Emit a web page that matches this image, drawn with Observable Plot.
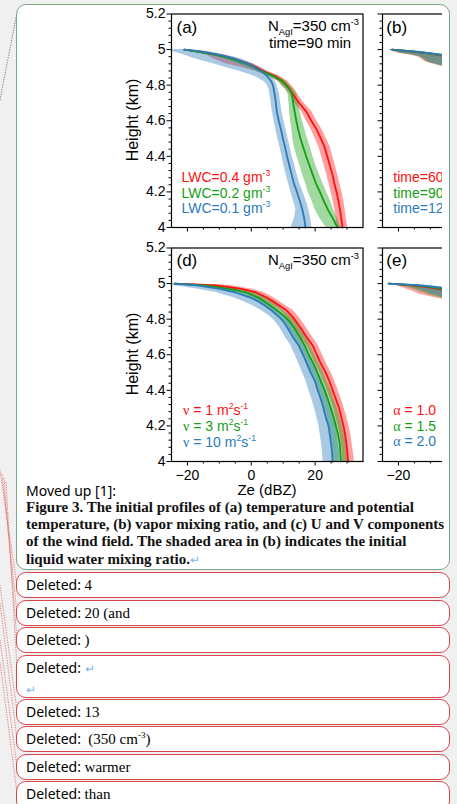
<!DOCTYPE html>
<html><head><meta charset="utf-8">
<script src="https://cdn.jsdelivr.net/npm/d3@7"></script>
<script src="https://cdn.jsdelivr.net/npm/@observablehq/plot@0.6"></script>
<style>
html,body{margin:0;padding:0}
body{width:457px;height:804px;overflow:hidden;position:relative;background:#f0f0f0;font-family:"Liberation Sans",Arial,sans-serif}
#marg{position:absolute;left:0;top:0;z-index:0}
#box{position:absolute;left:16px;top:4px;width:434px;height:566px;box-sizing:border-box;border:1.5px solid #7ea486;border-radius:10px;background:#fff;z-index:1}
#chart{position:absolute;left:0;top:0;width:457px;height:505px;z-index:2}
#clipR{position:absolute;left:372px;top:0;width:69.7px;height:505px;overflow:hidden}
.pn{position:absolute;max-width:none !important}
#moved{position:absolute;left:26px;top:483px;font:14px "Noto Sans",sans-serif;z-index:3;line-height:16px}
#cap{position:absolute;left:26px;top:499px;font:bold 15px "Liberation Serif",serif;line-height:17.2px;white-space:nowrap;z-index:3;color:#111}
.bal{position:absolute;left:16px;width:434px;box-sizing:border-box;border:1.5px solid #d8464c;border-radius:10px;background:#fff;z-index:1;padding:2px 0 0 9px;font:14px "Noto Sans",sans-serif;line-height:20px;white-space:pre}
.bal .c{font:15px "Liberation Serif",serif}
.ret{color:#86b3e6;font-size:12px}
</style></head>
<body>
<svg id="marg" width="457" height="804"></svg>
<div id="box"></div>
<div id="chart"><div id="clipR"></div></div>
<div id="moved">Moved up [1]:</div>
<div id="cap">Figure 3. The initial profiles of (a) temperature and potential<br>temperature, (b) vapor mixing ratio, and (c) U and V components<br>of the wind field. The shaded area in (b) indicates the initial<br>liquid water mixing ratio.<span class="ret" style="font-weight:normal">↵</span></div>
<script>
// ---------------- data ----------------
const heights = [5.0, 4.99, 4.97, 4.95, 4.92, 4.90, 4.88, 4.85, 4.82, 4.80, 4.78, 4.75, 4.70, 4.65, 4.60, 4.55, 4.50, 4.45, 4.40, 4.35, 4.30, 4.25, 4.20, 4.15, 4.10, 4.05, 4.00];
const heightsTop = [5.0, 4.99, 4.98, 4.97, 4.96, 4.95, 4.94, 4.93, 4.92, 4.91, 4.90, 4.89];

// panel (a): LWC experiments
const lwcNames = ["LWC=0.4", "LWC=0.2", "LWC=0.1"];
const aRed   = [-21, -17, -10.5, -6, -1, 1.5, 3.5, 7.5, 10, 11, 12, 13, 15, 17.3, 18.8, 20.5, 21.8, 23, 23.8, 24.6, 25.4, 26, 26.7, 27.3, 27.8, 28.2, 28.6];
const aGreen = [-21, -17.5, -11, -6.5, -1.5, 1, 3, 7, 9.8, 10.8, 11.8, 12.8, 13.1, 13.6, 14.1, 14.7, 15.4, 16.3, 17.2, 18.2, 19.2, 20.2, 21.5, 22.7, 24, 25.6, 27];
const aBlue  = [-21, -16, -10, -5.5, -1, 1, 3, 5, 6.3, 6.8, 7, 7.3, 7.7, 8, 8.6, 9.3, 9.9, 10.6, 11.2, 11.9, 12.6, 13.3, 14.3, 15.2, 16, 16.6, 17];
const aRedLo   = [-21, -19, -14, -12, -8, -3, 1, 5.5, 8.5, 9.5, 10.8, 12, 13.5, 15.8, 17.2, 18.8, 20, 21.2, 22, 22.8, 23.6, 24.3, 25, 25.6, 26.2, 26.6, 27];
const aRedHi   = [-20.5, -15, -8.5, -4.5, 0.5, 3, 5, 9, 11.5, 12.5, 13.5, 14.5, 16.5, 19, 20.5, 22.2, 23.5, 24.8, 25.5, 26.3, 27, 27.7, 28.4, 29, 29.4, 29.8, 30.2];
const aGreenLo = [-21, -19, -13, -9, -4, -1, 1.5, 5.5, 8.5, 9.5, 10.5, 11.5, 11.8, 12, 12.3, 12.7, 13, 13.5, 14.3, 15.2, 16, 17, 17.8, 19, 20, 21.5, 23.5];
const aGreenHi = [-20.5, -16, -9.5, -5, 0, 2.5, 4.5, 8.5, 11, 12, 13, 14.3, 14.8, 15.3, 16, 16.8, 17.6, 18.5, 19.3, 20.2, 21.3, 22.4, 23.6, 24.8, 25.8, 27, 28];
const aBlueLo  = [-25, -25, -21, -18, -12, -8, -4, 1, 4, 5, 5.5, 5.8, 6.2, 6.6, 7.1, 7.7, 8.3, 9, 9.6, 10.2, 10.9, 11.6, 12.4, 13.2, 14, 13.5, 12.5];
const aBlueHi  = [-20.5, -14, -8, -3.5, 0.5, 2.5, 4.5, 6.3, 7.5, 8, 8.3, 8.8, 9.2, 9.6, 10.2, 10.9, 11.5, 12.2, 12.8, 13.6, 14.3, 15.1, 16.2, 17.2, 18, 18.6, 19];

// panel (d): viscosity experiments
const nuNames = ["nu=1", "nu=3", "nu=10"];
const dRed   = [-24, -11, -3, 1.5, 4.9, 6.8, 8.5, 11, 12.6, 13.5, 14.3, 15.5, 17.3, 19.3, 20.5, 21.8, 23.3, 24.5, 25.5, 26.5, 27.5, 28.2, 28.9, 29.4, 29.8, 30.1, 30.3];
const dGreen = [-24, -15, -7, -1.5, 2.3, 4, 5.7, 8, 10.2, 11.3, 12.3, 13.5, 15.2, 16.8, 18, 19.5, 20.7, 21.8, 23, 24, 24.9, 25.8, 26.5, 27.2, 27.7, 27.9, 28.1];
const dBlue  = [-24, -17, -10, -5, 0, 2.2, 4, 6.3, 8.2, 9.4, 10.3, 11.4, 13, 14.9, 16.2, 17.4, 18.6, 20, 20.8, 21.8, 22.6, 23.3, 24.2, 24.6, 25, 25.3, 25.5];
const dRedLo   = [-25, -16, -7, -2, 2.5, 4.8, 6.5, 9, 10.8, 11.8, 12.6, 13.8, 15.6, 17.5, 18.8, 20.1, 21.5, 22.7, 23.8, 24.8, 25.8, 26.5, 27.2, 27.8, 28.2, 28.5, 28.7];
const dRedHi   = [-22, -7, 0, 4, 7, 8.8, 10.5, 13, 14.5, 15.4, 16.2, 17.3, 19.2, 21, 22.3, 23.6, 25, 26.2, 27.2, 28.2, 29.1, 29.9, 30.6, 31.2, 31.6, 32, 32.3];
const dGreenLo = [-25, -19, -11, -5, -1, 1.5, 3.5, 6, 8.3, 9.5, 10.5, 11.7, 13.4, 15, 16.2, 17.6, 18.8, 19.8, 20.8, 21.8, 22.6, 23.5, 24.2, 24.9, 25.4, 25.7, 25.9];
const dGreenHi = [-22, -11, -3.5, 1.5, 5, 6.5, 8, 10, 12, 13.1, 14.1, 15.3, 17, 18.6, 19.9, 21.3, 22.6, 23.8, 25, 26, 27, 27.8, 28.6, 29.2, 29.7, 30, 30.2];
const dBlueLo  = [-25, -25, -17, -11, -5.5, -2.5, 0, 3, 5.5, 6.8, 7.8, 9, 10.6, 12.4, 13.7, 14.9, 16, 17.2, 18, 19, 19.8, 20.5, 21.2, 21.6, 22, 22.3, 22.5];
const dBlueHi  = [-22, -13, -6, -2, 2.5, 4.5, 6.3, 8.5, 10.3, 11.5, 12.4, 13.5, 15.2, 17, 18.4, 19.7, 21, 22.4, 23.2, 24.2, 25, 25.7, 26.5, 26.9, 27.3, 27.6, 27.8];

// panel (b): time experiments (only the top of the profile is visible)
const timeNames = ["time=60", "time=90", "time=120"];
const bRed   = [-22, -16.5, -11.5, -7.5, -4.5, -2, 0, 2, 3.5, 5, 6.5, 8];
const bGreen = [-22, -16, -11, -7, -4, -1.5, 0.5, 2.5, 4, 5.5, 7, 8.5];
const bBlue  = [-22, -15.5, -10.5, -6.5, -3.5, -1, 1, 3, 4.5, 6, 7.5, 9];
const bRedLo   = [-23, -22, -20, -16.5, -14, -13, -12.3, -11.4, -9.5, -7.5, -5, -2];
const bRedHi   = [-21, -14.5, -9.5, -5.5, -2.5, 0, 2, 4, 5.5, 7, 8.5, 10];
const bGreenLo = [-23, -21.5, -19.5, -16, -13.5, -12.5, -11.8, -11, -9, -7, -4.5, -1.5];
const bGreenHi = [-21, -14, -9, -5, -2, 0.5, 2.5, 4.5, 6, 7.5, 9, 10.5];
const bBlueLo  = [-23, -21, -19, -15.5, -13, -12, -11.3, -10.5, -8.5, -6.5, -4, -1];
const bBlueHi  = [-21, -13.5, -8.5, -4.5, -1.5, 1, 3, 5, 6.5, 8, 9.5, 11];

// panel (e): alpha experiments
const alphaNames = ["alpha=1.0", "alpha=1.5", "alpha=2.0"];
const eRed   = [-23, -16, -11, -7.5, -4.5, -2, 0, 2, 3.5, 5, 6.5, 8];
const eGreen = [-23, -14.5, -9.5, -6, -3, -0.5, 1.5, 3.5, 5, 6.5, 8, 9.5];
const eBlue  = [-23, -13, -8, -4.5, -1.5, 1, 3, 5, 6.5, 8, 9.5, 11];
const eRedLo   = [-24, -21, -19, -17.5, -16, -14.5, -13.5, -11, -8.5, -5.5, -2, 1];
const eRedHi   = [-22, -14, -9, -5.5, -2.5, 0, 2, 4, 5.5, 7, 8.5, 10];
const eGreenLo = [-24, -20, -17.5, -15.5, -14, -12.5, -11, -9, -7, -4.5, -1.5, 1.5];
const eGreenHi = [-22, -12.5, -7.5, -4, -1, 1.5, 3.5, 5.5, 7, 8.5, 10, 11.5];
const eBlueLo  = [-24, -19, -16, -14, -12.5, -11, -9.5, -7.5, -5.5, -3, 0, 3];
const eBlueHi  = [-22, -11, -6, -2.5, 0.5, 3, 5, 7, 8.5, 10, 11.5, 13];

// axes
const xDomain = [-25, 35];
const yDomain = [4, 5.2];
const xMajor = [-20, 0, 20];
const xMinor = [-15, -10, -5, 5, 10, 15, 25, 30];
const yMajor = [4, 4.2, 4.4, 4.6, 4.8, 5, 5.2];
const yMinor = [4.04, 4.08, 4.12, 4.16, 4.24, 4.28, 4.32, 4.36, 4.44, 4.48, 4.52, 4.56, 4.64, 4.68, 4.72, 4.76, 4.84, 4.88, 4.92, 4.96, 5.04, 5.08, 5.12, 5.16];
const colors = ["#ff1010", "#14a014", "#2b7bbb"];

// deleted-balloon texts
const deletedItems = ["4", "20 (and", ")", "\u21b5", "13", " (350 cm", "warmer", "than"];

// ---------------- helpers ----------------
function buildRows(hs, names, vals, los, his) {
  const out = [];
  names.forEach((n, i) => hs.forEach((h, j) => out.push({s: n, h, v: vals[i][j], lo: los[i][j], hi: his[i][j]})));
  return out;
}
const FW = 191.5, FH = 213.5;
function rich(svg, x, y, parts, o = {}) {
  const size = o.size || 14;
  const t = d3.select(svg).append("text").attr("x", x).attr("y", y)
    .attr("fill", o.fill || "black").attr("font-size", size)
    .attr("font-family", o.family || "'Liberation Sans', Arial, sans-serif")
    .attr("text-anchor", o.anchor || "start");
  if (o.rotate) t.attr("transform", `rotate(${o.rotate},${x},${y})`);
  let shift = 0;
  for (const p of parts) {
    const [txt, kind, fam] = typeof p === "string" ? [p] : p;
    const ts = t.append("tspan").text(txt);
    const target = kind === "sup" ? -size * 0.42 : kind === "sub" ? size * 0.28 : 0;
    if (target - shift !== 0) ts.attr("dy", target - shift);
    shift = target;
    if (kind) ts.attr("font-size", size * 0.62);
    if (fam) ts.attr("font-family", fam);
  }
}
function panel(cfg) {
  const mL = cfg.mL, mT = cfg.mT, mR = cfg.mR, mB = cfg.mB;
  const rows = buildRows(cfg.hs, cfg.names, cfg.vals, cfg.los, cfg.his);
  const W = mL + FW + mR, Hh = mT + FH + mB;
  const svg = Plot.plot({
    width: W, height: Hh,
    marginLeft: mL, marginRight: mR, marginTop: mT, marginBottom: mB,
    x: {domain: xDomain, label: null},
    y: {domain: yDomain, label: null},
    color: {domain: cfg.names, range: colors},
    style: {background: "transparent", fontFamily: "'Liberation Sans', Arial, sans-serif", fontSize: "14px", color: "black", overflow: "visible", maxWidth: "none"},
    marks: [
      Plot.areaX(rows, {y: "h", x1: "lo", x2: "hi", z: "s", fill: "s", fillOpacity: 0.4}),
      Plot.line(rows, {x: "v", y: "h", z: "s", stroke: "s", strokeWidth: 1.8}),
      Plot.frame({stroke: "black", strokeWidth: 1.2}),
      Plot.axisY({ticks: yMajor, tickSize: 4.5, tickPadding: 1.5, label: null, fontSize: 14,
        tickFormat: cfg.yLabels ? (d => String(d)) : (() => "")}),
      Plot.axisY({ticks: yMinor, tickSize: 2.5, label: null, tickFormat: () => ""}),
      Plot.axisX({ticks: xMajor, tickSize: 4.5, tickPadding: 4.5, label: null, fontSize: 14,
        tickFormat: cfg.xLabels ? (d => d < 0 ? "\u2212" + (-d) : String(d)) : (() => "")}),
      Plot.axisX({ticks: xMinor, tickSize: 2.5, label: null, tickFormat: () => ""})
    ]
  });
  svg.classList.add("pn");
  svg.style.left = (cfg.fx - mL - cfg.ox) + "px";
  svg.style.top = (cfg.fy - mT) + "px";
  svg.style.background = "transparent";
  svg.style.maxWidth = "none";
  svg.style.width = W + "px";
  svg.style.height = Hh + "px";
  cfg.parent.appendChild(svg);
  const px = cfg.fx - mL, py = cfg.fy - mT;
  const T = (x, y, parts, o) => rich(svg, x - px, y - py, parts, o);
  cfg.texts(T);
  return svg;
}

const chart = document.getElementById("chart");
const clipR = document.getElementById("clipR");
const sup = s => [s, "sup"];
const sub = s => [s, "sub"];
const serif = "'Liberation Serif', 'Times New Roman', serif";

// (a)
panel({parent: chart, ox: 0, fx: 171, fy: 13.5, mL: 60, mT: 13.5, mR: 12, mB: 20,
  hs: heights, names: lwcNames, vals: [aRed, aGreen, aBlue], los: [aRedLo, aGreenLo, aBlueLo], his: [aRedHi, aGreenHi, aBlueHi],
  yLabels: true, xLabels: false,
  texts: T => {
    T(176.5, 33, ["(a)"], {size: 17});
    T(268, 31, ["N", sub("AgI"), "=350 cm", sup("-3")], {size: 15});
    T(269, 48, ["time=90 min"], {size: 15});
    T(181.5, 182, ["LWC=0.4 gm", sup("-3")], {size: 14, fill: colors[0]});
    T(181.5, 197.5, ["LWC=0.2 gm", sup("-3")], {size: 14, fill: colors[1]});
    T(181.5, 213, ["LWC=0.1 gm", sup("-3")], {size: 14, fill: colors[2]});
    T(138, 120, ["Height (km)"], {size: 16, anchor: "middle", rotate: -90});
  }});
// (d)
panel({parent: chart, ox: 0, fx: 171, fy: 247.5, mL: 60, mT: 17.5, mR: 12, mB: 45,
  hs: heights, names: nuNames, vals: [dRed, dGreen, dBlue], los: [dRedLo, dGreenLo, dBlueLo], his: [dRedHi, dGreenHi, dBlueHi],
  yLabels: true, xLabels: true,
  texts: T => {
    T(176.5, 266, ["(d)"], {size: 17});
    T(268, 265, ["N", sub("AgI"), "=350 cm", sup("-3")], {size: 15});
    T(183, 415, [["\u03bd", null, serif], " = 1 m", sup("2"), "s", sup("-1")], {size: 14, fill: colors[0]});
    T(183, 431, [["\u03bd", null, serif], " = 3 m", sup("2"), "s", sup("-1")], {size: 14, fill: colors[1]});
    T(183, 447, [["\u03bd", null, serif], " = 10 m", sup("2"), "s", sup("-1")], {size: 14, fill: colors[2]});
    T(138, 354, ["Height (km)"], {size: 16, anchor: "middle", rotate: -90});
    T(267, 495, ["Ze (dBZ)"], {size: 15, anchor: "middle"});
  }});
// (b)
panel({parent: clipR, ox: 372, fx: 381.7, fy: 13.5, mL: 10, mT: 13.5, mR: 10, mB: 20,
  hs: heightsTop, names: timeNames, vals: [bRed, bGreen, bBlue], los: [bRedLo, bGreenLo, bBlueLo], his: [bRedHi, bGreenHi, bBlueHi],
  yLabels: false, xLabels: false,
  texts: T => {
    T(386, 33, ["(b)"], {size: 17});
    T(393, 182, ["time=60 min"], {size: 14, fill: colors[0]});
    T(393, 197.5, ["time=90 min"], {size: 14, fill: colors[1]});
    T(393, 213, ["time=120 min"], {size: 14, fill: colors[2]});
  }});
// (e)
panel({parent: clipR, ox: 372, fx: 381.7, fy: 247.5, mL: 10, mT: 17.5, mR: 10, mB: 45,
  hs: heightsTop, names: alphaNames, vals: [eRed, eGreen, eBlue], los: [eRedLo, eGreenLo, eBlueLo], his: [eRedHi, eGreenHi, eBlueHi],
  yLabels: false, xLabels: true,
  texts: T => {
    T(386, 266, ["(e)"], {size: 17});
    T(393, 414.5, [["\u03b1", null, serif], " = 1.0"], {size: 14, fill: colors[0]});
    T(393, 430.5, [["\u03b1", null, serif], " = 1.5"], {size: 14, fill: colors[1]});
    T(393, 446, [["\u03b1", null, serif], " = 2.0"], {size: 14, fill: colors[2]});
  }});

// ---------------- balloons ----------------
const balTops = [572, 599.5, 627, 654.5, 698.5, 726, 753.5, 781];
const balHeights = [26, 26, 26, 43, 26, 26, 26, 30];
deletedItems.forEach((txt, i) => {
  const d = document.createElement("div");
  d.className = "bal";
  d.style.top = balTops[i] + "px";
  d.style.height = balHeights[i] + "px";
  if (i === 3) {
    d.innerHTML = 'Deleted: <span class="ret">\u21b5</span>\n<span class="ret">\u21b5</span>';
  } else if (i === 5) {
    d.innerHTML = 'Deleted: <span class="c"> (350 cm<sup style="font-size:9px">-3</sup>)</span>';
  } else {
    d.innerHTML = 'Deleted: <span class="c"></span>';
    d.querySelector(".c").textContent = txt;
  }
  document.body.appendChild(d);
});

// ---------------- margin connector lines ----------------
const marg = d3.select("#marg");
const redLines = [[0,470,17,586],[2,474,17,613],[4,478,17,640],[6,482,17,668],[0,585,17,711],[0,603,17,739],[0,640,17,766],[0,662,17,793]];
redLines.forEach(([x1,y1,x2,y2]) => marg.append("line").attr("x1",x1).attr("y1",y1).attr("x2",x2).attr("y2",y2)
  .attr("stroke","#e06a6a").attr("stroke-width",0.9).attr("stroke-dasharray","1.2,1.3"));
marg.append("line").attr("x1",0).attr("y1",100).attr("x2",16.5).attr("y2",15)
  .attr("stroke","#4f7a5a").attr("stroke-width",0.9).attr("stroke-dasharray","1.2,1.3");
</script>
</body></html>
